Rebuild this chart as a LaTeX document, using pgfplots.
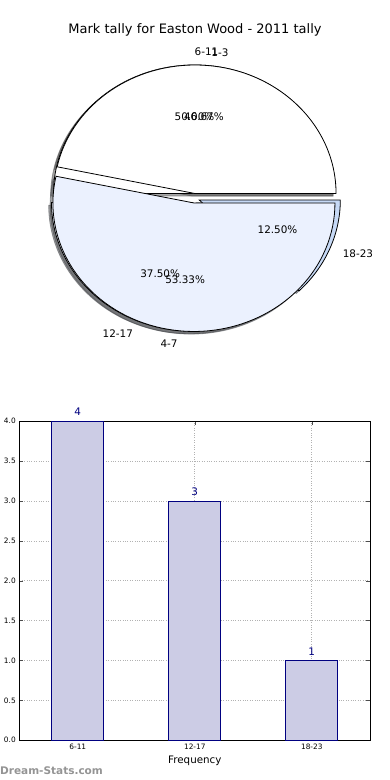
\documentclass[border=0pt]{standalone}
\usepackage{fontspec}
\setmainfont{DejaVu Sans}
\usepackage{pgfplots}
\pgfplotsset{compat=1.18}

\definecolor{pielight}{RGB}{235,241,254}
\definecolor{pieblue}{RGB}{198,217,246}
\definecolor{barfill}{RGB}{204,204,229}
\definecolor{navy}{RGB}{0,0,128}
\definecolor{shw}{RGB}{77,77,77}
\definecolor{shl}{RGB}{70,72,76}
\definecolor{shb}{RGB}{59,65,74}

% pie data (counts)
\def\pA{4}\def\pB{3}\def\pC{1}
\def\qA{7}\def\qB{8}
\def\ex{0.037}
\def\lbl{\fontsize{10.4}{12}\selectfont}

% wedge: start, end, style, shift x, shift y
\newcommand\slice[5]{%
  \pgfmathsetmacro\sm{(#1+#2)/2}%
  \pgfmathsetmacro\sox{\ex*cos(\sm)+#4}%
  \pgfmathsetmacro\soy{\ex*sin(\sm)+#5}%
  \pgfmathsetmacro\ssx{\sox+cos(#1)}%
  \pgfmathsetmacro\ssy{\soy+sin(#1)}%
  \path[#3] (axis cs:\sox,\soy) -- (axis cs:\ssx,\ssy)
     arc[start angle=#1, end angle=#2, x radius=141pt, y radius=128.5pt] -- cycle;%
}
% labels: start, end, label, pct, anchor
\newcommand\slicelabel[5]{%
  \pgfmathsetmacro\sm{(#1+#2)/2}%
  \pgfmathsetmacro\sox{\ex*cos(\sm)}%
  \pgfmathsetmacro\soy{\ex*sin(\sm)}%
  \pgfmathsetmacro\lx{\sox+1.1*cos(\sm)}%
  \pgfmathsetmacro\ly{\soy+1.1*sin(\sm)}%
  \pgfmathsetmacro\px{\sox+0.6*cos(\sm)}%
  \pgfmathsetmacro\py{\soy+0.6*sin(\sm)}%
  \node[anchor=#5, inner sep=0pt, font=\lbl] at (axis cs:\lx,\ly) {#3};%
  \node[inner sep=0pt, font=\lbl] at (axis cs:\px,\py) {#4};%
}

\begin{document}
\begin{tikzpicture}[x=1pt,y=1pt]
\useasboundingbox (0,0) rectangle (390,780);

\pgfmathsetmacro\pT{\pA+\pB+\pC}
\pgfmathsetmacro\aI{360*\pA/\pT}
\pgfmathsetmacro\aII{\aI+360*\pB/\pT}
\pgfmathsetmacro\qT{\qA+\qB}
\pgfmathsetmacro\bI{360*\qA/\qT}
\global\let\aI\aI \global\let\aII\aII \global\let\bI\bI

\node[font=\fontsize{13}{15}\selectfont] at (195,750) {Mark tally for Easton Wood - 2011 tally};

\begin{axis}[at={(0pt,390pt)}, anchor=south west, width=390pt, height=390pt,
  scale only axis, hide axis, clip=false,
  xmin=-1.37943, xmax=1.38652, ymin=-1.49222, ymax=1.54280]
\pgfplotsextra{%
  % shadows
  \slice{0}{\aI}{fill=shw,draw=shw,fill opacity=0.5,draw opacity=0.5,line width=0.8pt}{-0.02}{-0.02}
  \slice{\aI}{\aII}{fill=shl,draw=shl,fill opacity=0.5,draw opacity=0.5,line width=0.8pt}{-0.02}{-0.02}
  \slice{\aII}{360}{fill=shb,draw=shb,fill opacity=0.5,draw opacity=0.5,line width=0.8pt}{-0.02}{-0.02}
  \slice{0}{\bI}{fill=shw,draw=shw,fill opacity=0.5,draw opacity=0.5,line width=0.8pt}{-0.02}{-0.02}
  \slice{\bI}{360}{fill=shl,draw=shl,fill opacity=0.5,draw opacity=0.5,line width=0.8pt}{-0.02}{-0.02}
  % pie 1
  \slice{0}{\aI}{fill=white,draw=black,line width=0.8pt}{0}{0}
  \slice{\aI}{\aII}{fill=pielight,draw=black,line width=0.8pt}{0}{0}
  \slice{\aII}{360}{fill=pieblue,draw=black,line width=0.8pt}{0}{0}
  % pie 2
  \slice{0}{\bI}{fill=white,draw=black,line width=0.8pt}{0}{0}
  \slice{\bI}{360}{fill=pielight,draw=black,line width=0.8pt}{0}{0}
  % labels
  \slicelabel{0}{\aI}{6-11}{50.00\%}{west}
  \slicelabel{\aI}{\aII}{12-17}{37.50\%}{east}
  \slicelabel{\aII}{360}{18-23}{12.50\%}{west}
  \slicelabel{0}{\bI}{1-3}{46.67\%}{west}
  \slicelabel{\bI}{360}{4-7}{53.33\%}{east}
}
\end{axis}

\begin{axis}[at={(19.3pt,39.7pt)}, anchor=south west, width=351pt, height=319pt,
  scale only axis, clip=false,
  xmin=-0.5, xmax=2.5, ymin=0, ymax=4,
  ybar, bar width=52pt, bar shift=0pt,
  xtick={0,1,2}, xticklabels={6-11,12-17,18-23},
  ytick={0,0.5,1,1.5,2,2.5,3,3.5,4},
  yticklabel style={/pgf/number format/.cd, fixed, fixed zerofill, precision=1},
  /pgf/number format/assume math mode=true,
  tick label style={font=\fontsize{7.4}{8}\selectfont},
  grid=major, major grid style={dotted, black!30, line width=0.8pt},
  tick align=inside, major tick length=4pt, tick style={black!70, line width=0.6pt},
  axis line style={black, line width=0.8pt},
  xlabel={Frequency}, xlabel style={font=\fontsize{10.3}{12}\selectfont},
  nodes near coords,
  nodes near coords style={text=navy, font=\fontsize{10.4}{12}\selectfont, anchor=south, inner sep=0pt, yshift=5pt},
]
\addplot[fill=barfill, draw=navy, line width=0.8pt] coordinates {(0,4) (1,3) (2,1)};
\end{axis}

\node[anchor=west, inner sep=0pt, text=black!42, font=\bfseries\fontsize{10.5}{12}\selectfont] at (0,9) {Dream-Stats.com};
\end{tikzpicture}
\end{document}
